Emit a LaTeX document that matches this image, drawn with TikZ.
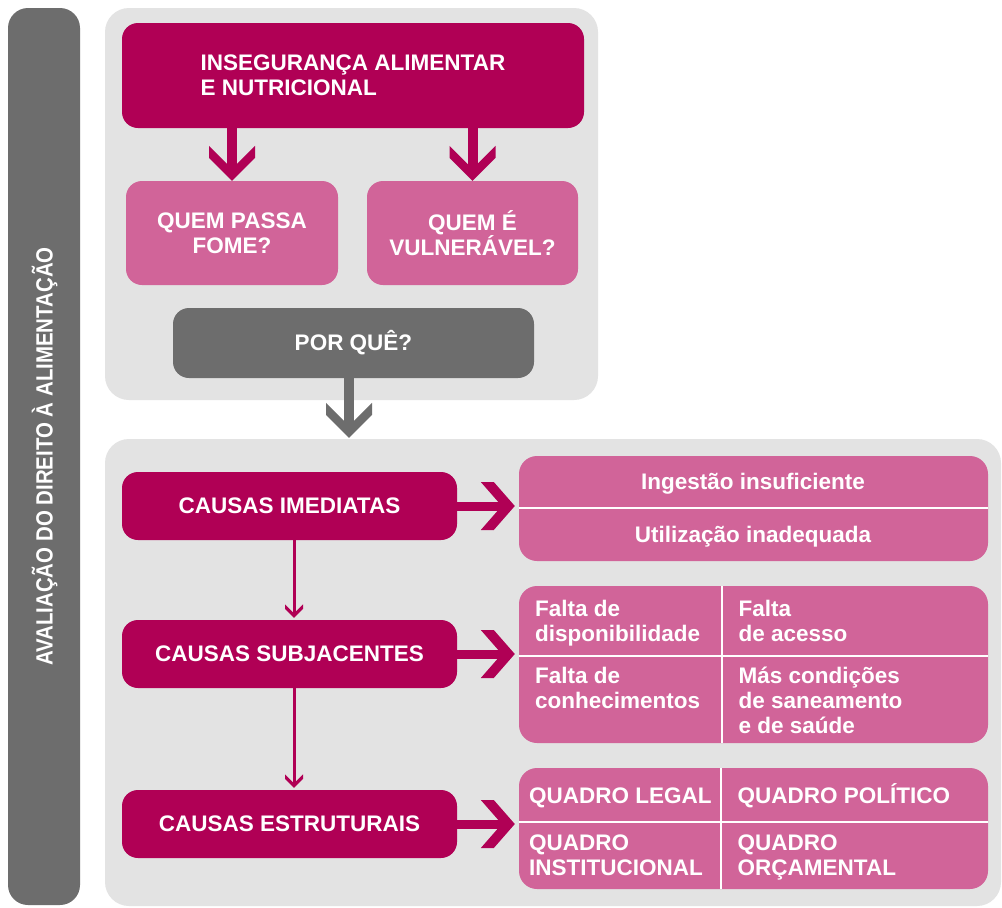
\documentclass[tikz,border=0pt]{standalone}
\usepackage{fontspec}
\setmainfont{Liberation Sans}
\newfontfamily\vfont[FakeStretch=0.87]{Liberation Sans}
\usetikzlibrary{calc}
\definecolor{dmag}{HTML}{B00055}
\definecolor{pmag}{HTML}{D16499}
\definecolor{dgray}{HTML}{6D6D6D}
\definecolor{lgray}{HTML}{E3E3E3}
\begin{document}
\begin{tikzpicture}[x=1pt,y=-1pt,
  txt/.style={font=\bfseries\fontsize{22.5}{25}\selectfont, text=white},
  box/.style={txt, rounded corners=16pt, inner sep=0pt, align=center},
  panel/.style={rounded corners=24pt, fill=lgray, inner sep=0pt},
  cell/.style={txt, anchor=base west, align=left, inner sep=0pt},
  ctext/.style={txt, anchor=base, inner sep=0pt},
  divider/.style={draw=white, line width=2.5pt},
  bigstem/.style={line width=10pt},
  rstem/.style={draw=dmag, line width=9pt},
  tstem/.style={draw=dmag, line width=3pt},
  pics/dchev/.style={code={\fill[#1] (0,0) -- (-23,-23) -- (-23,-35) -- (0,-12) -- (23,-35) -- (23,-23) -- cycle;}},
  pics/rchev/.style={code={\fill[#1] (0,0) -- (-21,-24) -- (-34,-24) -- (-13,0) -- (-34,24) -- (-21,24) -- cycle;}},
  pics/tchev/.style={code={\fill[#1] (0,0) -- (-9,-9) -- (-9,-13.5) -- (0,-4.5) -- (9,-13.5) -- (9,-9) -- cycle;}}
]
\useasboundingbox (0,0) rectangle (1002,908);
\fill[white] (0,0) rectangle (1002,908);

% side bar
\node[fill=dgray, rounded corners=20pt, inner sep=0pt, minimum width=72pt, minimum height=897pt] (bar) at (44,456.5) {};
\node[rotate=90, text=white, inner sep=0pt, font=\vfont\bfseries\fontsize{23.5}{26}\selectfont] (bartxt) at (44.5,456.5) {AVALIAÇÃO DO DIREITO À ALIMENTAÇÃO};

% panels
\node[panel, minimum width=493pt, minimum height=392pt] (tpan) at (351.5,204) {};
\node[panel, minimum width=896pt, minimum height=467pt] (bpan) at (553,672.5) {};

% top part
\node[box, fill=dmag, align=left, minimum width=462pt, minimum height=105pt] (top) at (353,75.5) {INSEGURANÇA ALIMENTAR\\E NUTRICIONAL};
\node[box, fill=pmag, minimum width=212pt, minimum height=104pt] (q1) at (232,233) {QUEM PASSA\\FOME?};
\node[box, fill=pmag, minimum width=211pt, minimum height=104pt] (q2) at (472.5,233) {QUEM É\\VULNERÁVEL?};
\node[box, fill=dgray, minimum width=361pt, minimum height=70pt] (por) at (353.5,343) {POR QUÊ?};

\draw[bigstem, draw=dmag] (top.south -| q1) -- ($(q1.north)+(0,-8)$);
\pic at (q1.north) {dchev=dmag};
\draw[bigstem, draw=dmag] (top.south -| q2) -- ($(q2.north)+(0,-8)$);
\pic at (q2.north) {dchev=dmag};

\coordinate (gx) at (349,0);
\draw[bigstem, draw=dgray] (por.south -| gx) -- ($(bpan.north -| gx)+(0,-9)$);
\pic at ($(bpan.north -| gx)+(0,-1)$) {dchev=dgray};

% causes
\node[box, fill=dmag, minimum width=335pt, minimum height=68pt] (imm) at (289.5,506) {CAUSAS IMEDIATAS};
\node[box, fill=dmag, minimum width=335pt, minimum height=68pt] (sub) at (289.5,654) {CAUSAS SUBJACENTES};
\node[box, fill=dmag, minimum width=335pt, minimum height=68pt] (est) at (289.5,824) {CAUSAS ESTRUTURAIS};

\coordinate (ax) at (294,0);
\draw[tstem] (imm.south -| ax) -- ($(sub.north -| ax)+(0,-5)$);
\pic at ($(sub.north -| ax)+(0,-2)$) {tchev=dmag};
\draw[tstem] (sub.south -| ax) -- ($(est.north -| ax)+(0,-5)$);
\pic at ($(est.north -| ax)+(0,-2)$) {tchev=dmag};

% right panels
\node[fill=pmag, rounded corners=18pt, inner sep=0pt, minimum width=469pt, minimum height=105pt] (p1) at (753.5,508.5) {};
\node[fill=pmag, rounded corners=18pt, inner sep=0pt, minimum width=469pt, minimum height=157pt] (p2) at (753.5,664.5) {};
\node[fill=pmag, rounded corners=18pt, inner sep=0pt, minimum width=469pt, minimum height=121pt] (p3) at (753.5,828.5) {};

\coordinate (d1) at (0,508);
\coordinate (d2) at (0,656);
\coordinate (d3) at (0,822);
\coordinate (v2) at (722,0);
\coordinate (v3) at (721,0);
\draw[divider] (p1.west |- d1) -- (p1.east |- d1);
\draw[divider] (p2.west |- d2) -- (p2.east |- d2);
\draw[divider] (v2 |- p2.north) -- (v2 |- p2.south);
\draw[divider] (p3.west |- d3) -- (p3.east |- d3);
\draw[divider] (v3 |- p3.north) -- (v3 |- p3.south);

\draw[rstem] (imm.east) -- ($(p1.west |- imm.east)+(-14,0)$);
\pic at ($(p1.west |- imm.east)+(-4,0)$) {rchev=dmag};
\draw[rstem] (sub.east) -- ($(p2.west |- sub.east)+(-14,0)$);
\pic at ($(p2.west |- sub.east)+(-4,0)$) {rchev=dmag};
\draw[rstem] (est.east) -- ($(p3.west |- est.east)+(-14,0)$);
\pic at ($(p3.west |- est.east)+(-4,0)$) {rchev=dmag};

% texts
\node[ctext] (t11) at (753,489) {Ingestão insuficiente};
\node[ctext] (t12) at (753,542) {Utilização inadequada};

\node[cell] (t21) at (535,641) {Falta de\\disponibilidade};
\node[cell] (t22) at (738.5,641) {Falta\\de acesso};
\node[cell] (t23) at (535,708) {Falta de\\conhecimentos};
\node[cell] (t24) at (738.5,733) {Más condições\\de saneamento\\e de saúde};

\node[cell] (t31) at (529,803) {QUADRO LEGAL};
\node[cell] (t32) at (737.5,803) {QUADRO POLÍTICO};
\node[cell] (t33) at (529,875) {QUADRO\\INSTITUCIONAL};
\node[cell] (t34) at (737.5,875) {QUADRO\\ORÇAMENTAL};
\end{tikzpicture}
\end{document}
